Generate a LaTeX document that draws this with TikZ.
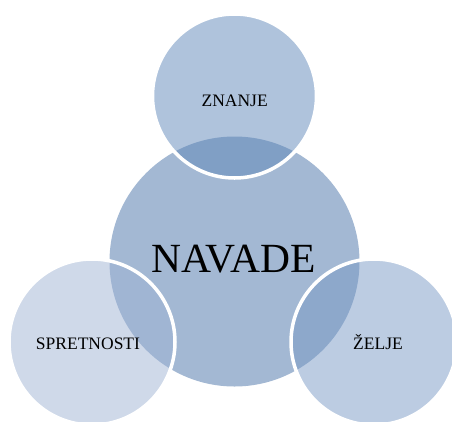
\documentclass[tikz,border=0pt]{standalone}
\usepackage{fontspec}
\setmainfont{Liberation Serif}
\begin{document}
\begin{tikzpicture}[x=1pt,y=-1pt,
  hub/.style={fill=hubfill},
  petal/.style={fill=#1,fill opacity=0.5,draw=white,draw opacity=1,line width=3.5pt},
  biglabel/.style={font=\fontsize{41.5}{46}\selectfont,inner sep=0pt},
  smalllabel/.style={font=\fontsize{17.5}{20}\selectfont,inner sep=0pt}]
\definecolor{hubfill}{RGB}{163,184,211}
\definecolor{topfill}{RGB}{95,135,185}
\definecolor{leftfill}{RGB}{159,179,211}
\definecolor{rightfill}{RGB}{121,153,197}
\clip (0,0) rectangle (452,421);
\useasboundingbox (0,0) rectangle (452,421);
% central circle
\fill[hub] (234.5,261.5) circle[radius=125];
% outer circles, half transparent with a white rim
\draw[petal=topfill] (234.5,96) circle[radius=82];
\draw[petal=leftfill] (92,342) circle[radius=83];
\draw[petal=rightfill] (374,342) circle[radius=83];
% labels
\node[biglabel] (navade) at (233.5,259.5) {NAVADE};
\node[smalllabel] (znanje) at (234.7,100.5) {ZNANJE};
\node[smalllabel] (spretnosti) at (88,344) {SPRETNOSTI};
\node[smalllabel] (zelje) at (378,342) {ŽELJE};
\end{tikzpicture}
\end{document}
